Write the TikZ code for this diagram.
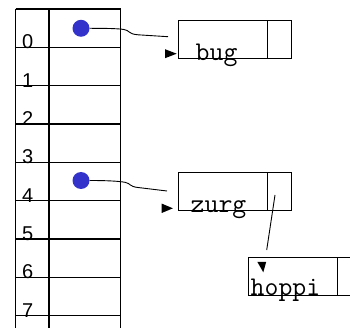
\documentclass[tikz,border=0pt]{standalone}
\usepackage{fontspec}
\newfontfamily\digfont{Liberation Sans}
\definecolor{dotblue}{HTML}{3333CC}
\tikzset{
  gridline/.style={line width=1.1pt},
  idx/.style={anchor=base west,inner sep=0pt,font=\digfont\fontsize{20}{20}\selectfont},
  lbl/.style={anchor=base west,inner sep=0pt,font=\ttfamily\fontsize{27}{27}\selectfont},
  ptr/.style={circle,fill=dotblue,inner sep=0pt,minimum size=17pt},
  datacell/.style={draw,line width=1.1pt,rectangle,inner sep=0pt,minimum width=88.4pt,minimum height=38.3pt,anchor=north west},
  ptrcell/.style={draw,line width=1.1pt,rectangle,inner sep=0pt,minimum width=24pt,minimum height=38.3pt,anchor=north west},
  link/.style={line width=0.9pt},
  tip/.style={fill=black}
}
\begin{document}
\begin{tikzpicture}[x=1pt,y=-1pt]
\useasboundingbox (0,0) rectangle (350,328);
\clip (0,0) rectangle (350,328);
% table
\foreach \xx in {15.7,49,120.7} \draw[gridline] (\xx,9) -- (\xx,328);
\foreach \k in {0,...,8} \draw[gridline] (15.7,9+38.33*\k) -- (120.7,9+38.33*\k);
% indices
\foreach \k in {0,...,7} \node[idx] (i\k) at (22,48.7+38.33*\k) {\k};
% pointer dots
\node[ptr] (d0) at (81,28.3) {};
\node[ptr] (d4) at (81,180.5) {};
% boxes
\node[datacell] (bug) at (178.3,20) {};
\node[ptrcell] (bugp) at (266.7,20) {};
\node[datacell] (zurg) at (178.3,171.7) {};
\node[ptrcell] (zurgp) at (266.7,171.7) {};
\node[datacell] (hoppi) at (248.3,256.7) {};
\node[ptrcell] (hoppip) at (336.7,256.7) {};
% labels
\node[lbl] (tbug) at (195.5,60.5) {bug};
\node[lbl] (tzurg) at (190.5,212.5) {zurg};
\node[lbl] (thoppi) at (250.5,295.5) {hoppi};
% connector ends
\coordinate (e0) at (168,36.7);
\coordinate (e4) at (167,191);
\coordinate (zs) at (275,195);
\coordinate (ze) at (266.7,250);
% connectors
\draw[link] (d0.east) .. controls (105,28.3) and (118,28.5) .. (124,29.5)
  .. controls (130,30.5) and (128,34) .. (138,34.8) -- (e0);
\draw[link] (d4.east) .. controls (105,180.5) and (118,181) .. (125,182.3)
  .. controls (131,183.5) and (129,186.5) .. (138,187.5) -- (e4);
\draw[link] (zs) -- (ze);
% arrow tips
\fill[tip] (165,49.2) -- (176.7,53.7) -- (165,58.2) -- cycle;
\fill[tip] (161.7,203.6) -- (172.9,208.3) -- (161.7,213) -- cycle;
\fill[tip] (257.3,261.8) -- (266.2,261.8) -- (263.3,272.3) -- cycle;
\end{tikzpicture}
\end{document}
